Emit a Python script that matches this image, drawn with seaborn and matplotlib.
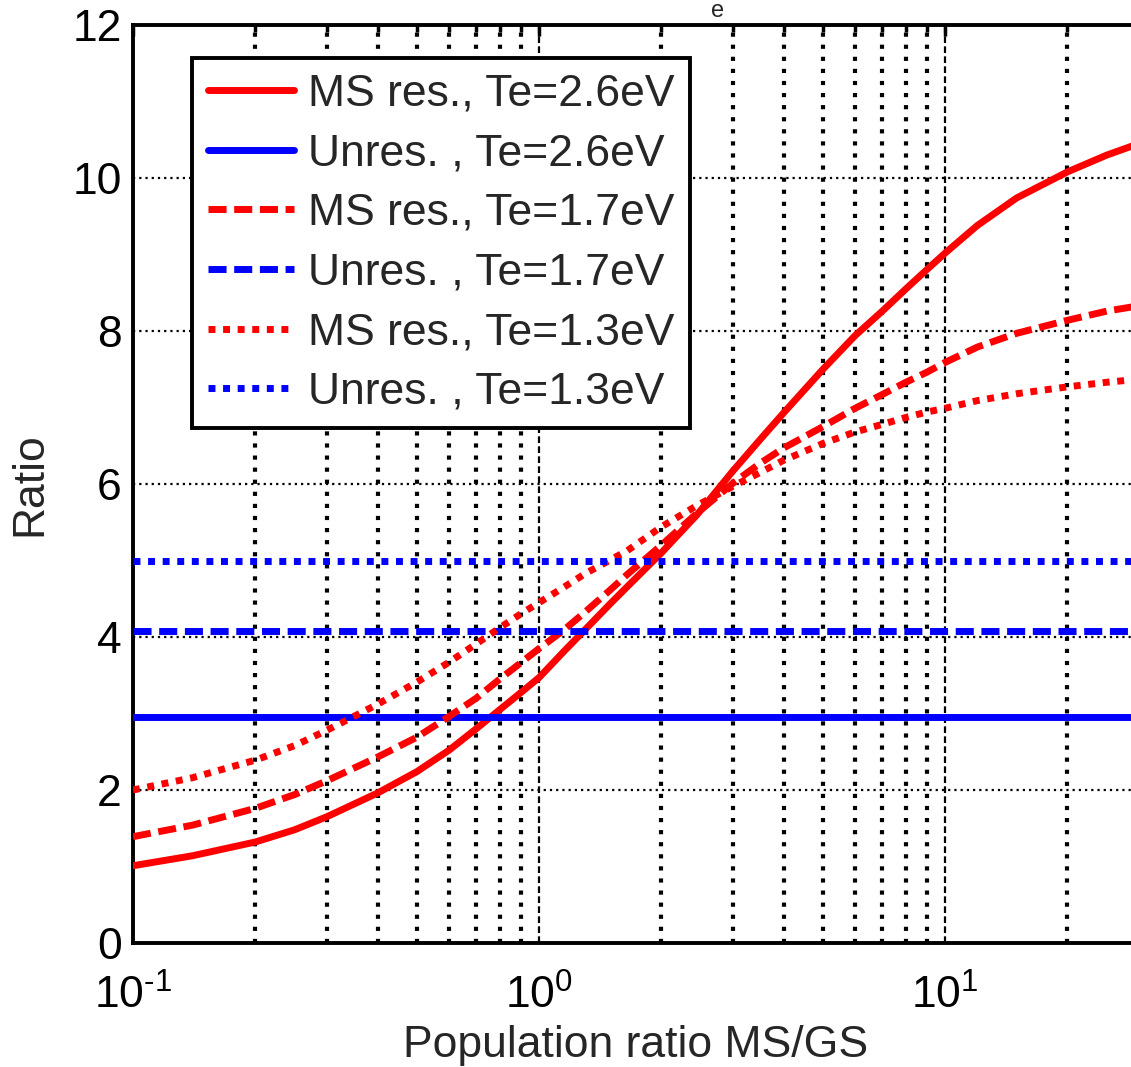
import numpy as np
import pandas as pd
import matplotlib
matplotlib.use("Agg")
import matplotlib.pyplot as plt
import matplotlib.ticker as mticker
import seaborn as sns

# ---- data ----
pop_ratio = [0.1, 0.14, 0.2, 0.25, 0.3, 0.4, 0.5, 0.6, 0.7, 0.8, 0.9, 1.0,
             1.15, 1.3, 1.5, 1.65, 2.0, 2.45, 3.0, 3.5, 4.0, 5.0, 6.0, 7.0,
             8.0, 9.0, 10.0, 12.0, 15.0, 20.0, 25.0, 30.0]
ms_res_26 = [1.01, 1.14, 1.32, 1.48, 1.65, 1.96, 2.24, 2.52, 2.80, 3.05, 3.27, 3.47,
             3.81, 4.10, 4.44, 4.66, 5.10, 5.60, 6.17, 6.58, 6.93, 7.50, 7.94, 8.26,
             8.55, 8.80, 9.02, 9.38, 9.74, 10.08, 10.30, 10.45]
ms_res_17 = [1.39, 1.54, 1.76, 1.94, 2.12, 2.43, 2.69, 2.96, 3.20, 3.45, 3.66, 3.85,
             4.09, 4.33, 4.62, 4.82, 5.20, 5.62, 6.01, 6.27, 6.47, 6.75, 6.99, 7.17,
             7.33, 7.46, 7.59, 7.79, 7.97, 8.14, 8.26, 8.33]
ms_res_13 = [2.00, 2.16, 2.39, 2.58, 2.78, 3.12, 3.41, 3.67, 3.91, 4.12, 4.30, 4.45,
             4.65, 4.83, 5.01, 5.13, 5.44, 5.72, 5.97, 6.15, 6.31, 6.53, 6.68, 6.78,
             6.87, 6.94, 6.99, 7.09, 7.18, 7.27, 7.33, 7.37]
unres_26 = 2.95
unres_17 = 4.08
unres_13 = 5.00
x_range = [0.1, 30.0]

labels = ["MS res., Te=2.6eV", "Unres. , Te=2.6eV",
          "MS res., Te=1.7eV", "Unres. , Te=1.7eV",
          "MS res., Te=1.3eV", "Unres. , Te=1.3eV"]
y_ticks = [0, 2, 4, 6, 8, 10, 12]

# ---- style ----
sns.set_theme(style="white")
plt.rcParams["font.family"] = ["Liberation Sans", "DejaVu Sans"]
plt.rcParams["mathtext.fontset"] = "custom"
plt.rcParams["mathtext.rm"] = "Liberation Sans"
plt.rcParams["mathtext.it"] = "Liberation Sans:italic"
plt.rcParams["axes.unicode_minus"] = False
plt.rcParams["lines.scale_dashes"] = True

FS = 32
LW = 5.0
RED = "#ff0000"
BLUE = "#0000ff"
solid = "-"
dashed = (0, (2.6, 1.1))
dotted = (0, (1.0, 1.1))

fig = plt.figure(figsize=(11.31, 10.67), dpi=100)
ax = fig.add_axes([133 / 1131, 124 / 1067, (1139 - 133) / 1131, (943 - 25) / 1067])

series = [
    (pop_ratio, ms_res_26, RED, solid, labels[0]),
    (x_range, [unres_26, unres_26], BLUE, solid, labels[1]),
    (pop_ratio, ms_res_17, RED, dashed, labels[2]),
    (x_range, [unres_17, unres_17], BLUE, dashed, labels[3]),
    (pop_ratio, ms_res_13, RED, dotted, labels[4]),
    (x_range, [unres_13, unres_13], BLUE, dotted, labels[5]),
]
for xs, ys, col, ls, lab in series:
    df = pd.DataFrame({"x": xs, "y": ys})
    sns.lineplot(data=df, x="x", y="y", ax=ax, color=col, linewidth=LW,
                 linestyle=ls, label=lab, legend=False, zorder=3,
                 solid_joinstyle="round")

ax.set_xscale("log")
ax.set_xlim(0.1, 30)
ax.set_ylim(0, 12)
ax.set_yticks(y_ticks)
ax.xaxis.set_major_locator(mticker.LogLocator(base=10))
ax.xaxis.set_minor_locator(mticker.LogLocator(base=10, subs=np.arange(2, 10)))
ax.xaxis.set_minor_formatter(mticker.NullFormatter())


def pow10_label(v, pos):
    e = int(round(np.log10(v)))
    s = str(e).replace("-", r"\text{-}")
    return r"$\mathregular{10^{%s}}$" % s


ax.xaxis.set_major_formatter(mticker.FuncFormatter(pow10_label))

# grid
ax.set_axisbelow(True)
ax.yaxis.grid(True, which="major", color="black", linewidth=1.6, linestyle=(0, (1, 1.8)))
ax.xaxis.grid(True, which="major", color="black", linewidth=1.6, linestyle=(0, (3, 1.5)))
ax.xaxis.grid(True, which="minor", color="black", linewidth=3.0, linestyle=(0, (1, 1.9)))

for side in ["left", "bottom", "top"]:
    ax.spines[side].set_linewidth(2.8)
    ax.spines[side].set_color("black")
ax.spines["right"].set_visible(False)

ax.tick_params(axis="both", which="both", direction="in", colors="black",
               labelsize=FS, top=True, width=2.5)
ax.tick_params(axis="both", which="major", length=8)
ax.tick_params(axis="x", which="minor", length=5)
ax.tick_params(axis="x", which="major", pad=23)
ax.tick_params(axis="y", which="major", pad=8)

ax.set_xlabel("Population ratio MS/GS", fontsize=FS, labelpad=5)
ax.set_ylabel("Ratio", fontsize=FS, labelpad=16)

# remnant of the title (subscript e) at the top edge, as in the reference
fig.text(718 / 1131, 1.0, "e", ha="center", va="top", fontsize=17)

handles, labs = ax.get_legend_handles_labels()
leg = ax.legend(handles, labs, loc="upper left",
                bbox_to_anchor=(192 / 1131, 1 - 58 / 1067),
                bbox_transform=fig.transFigure,
                fontsize=FS, frameon=True, fancybox=False, framealpha=1,
                edgecolor="black", handlelength=1.95, handletextpad=0.3,
                labelspacing=0.42, borderpad=0.35, borderaxespad=0)
leg.get_frame().set_linewidth(2.8)

fig.savefig("out.png", dpi=100)
